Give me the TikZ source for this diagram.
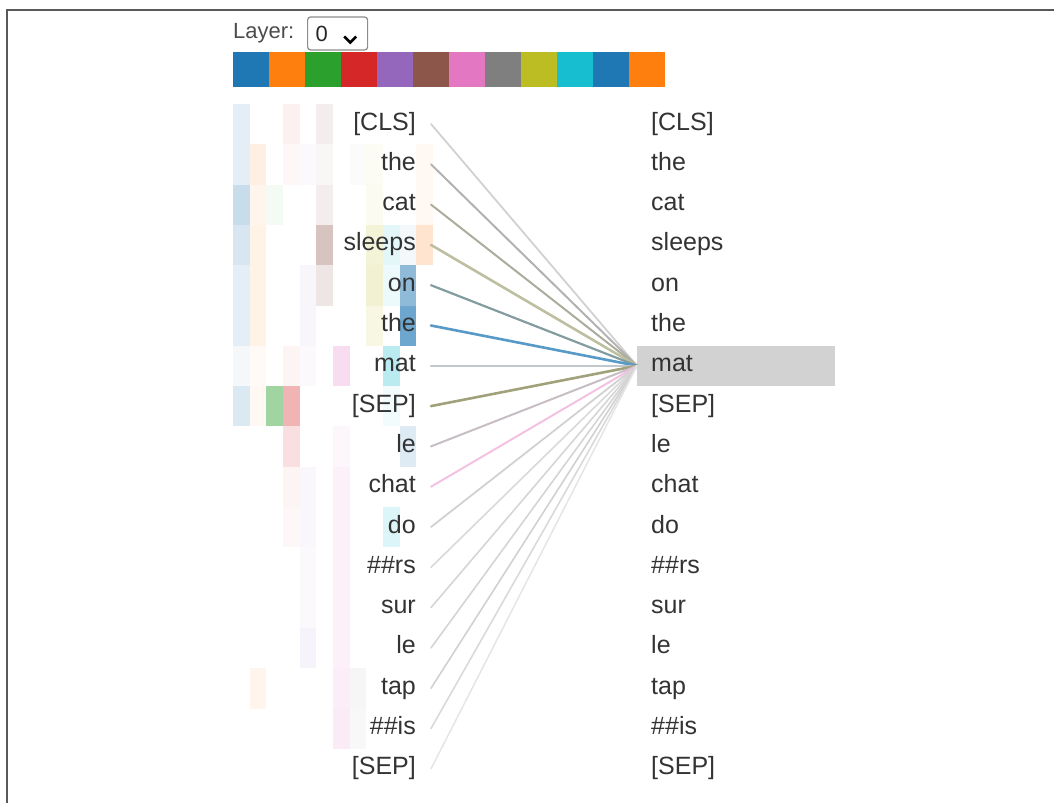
\documentclass[tikz,border=0pt]{standalone}
\usepackage{fontspec}
\setmainfont{Liberation Sans}
\usepackage{xcolor}
% head colours
\definecolor{hc0}{HTML}{1F77B4}
\definecolor{hc1}{HTML}{FF7F0E}
\definecolor{hc2}{HTML}{2CA02C}
\definecolor{hc3}{HTML}{D62728}
\definecolor{hc4}{HTML}{9467BD}
\definecolor{hc5}{HTML}{8C564B}
\definecolor{hc6}{HTML}{E377C2}
\definecolor{hc7}{HTML}{7F7F7F}
\definecolor{hc8}{HTML}{BCBD22}
\definecolor{hc9}{HTML}{17BECF}
\definecolor{hc10}{HTML}{1F77B4}
\definecolor{hc11}{HTML}{FF7F0E}
\definecolor{tokgray}{HTML}{333333}
\definecolor{selgray}{HTML}{D2D2D2}

\begin{document}
\begin{tikzpicture}[x=1pt, y=-1pt,
    tok/.style={text=tokgray, font=\fontsize{25}{30}\selectfont, text height=18pt, text depth=6pt, inner ysep=7.5pt},
    srctok/.style={tok, anchor=east, inner xsep=15pt},
    tgttok/.style={tok, anchor=west, inner xsep=14pt, text width=170pt, align=left},
    attn/.style={line width=2pt, line cap=round}]
    \useasboundingbox (0,0) rectangle (1054,803);

    % window edge
    \draw[line width=2.2pt, black!65] (7,803) -- (7,10) -- (1054,10);

    % layer selector
    \node[anchor=west, text=black!70, font=\fontsize{22}{26}\selectfont, inner sep=0pt] (layerlbl) at (233,33) {Layer:};
    \node[draw=black!45, line width=1.2pt, rounded corners=3pt, anchor=west, minimum height=33pt,
          text width=44pt, inner xsep=8pt, align=left, text=black!85, font=\fontsize{22}{26}\selectfont] (layersel) at (307,33.5) {0};
    \draw[line width=2.6pt, black] ([xshift=-24pt, yshift=-3pt]layersel.east) -- ++(6,6) -- ++(6,-6);

    % head colour bar
    \foreach \c in {0,...,11}
        \fill[hc\c] ({233+36*\c}, 52) rectangle ++(36, 35);

    % attention heat map (head / row / strength)
    \foreach \c/\r/\o in {0/0/.12, 0/1/.12, 0/2/.25, 0/3/.18, 0/4/.12, 0/5/.12, 0/6/.05, 0/7/.16,
                          1/1/.12, 1/2/.08, 1/3/.1, 1/4/.1, 1/5/.1, 1/6/.04, 1/7/.05, 1/14/.08,
                          2/2/.05, 2/7/.45,
                          3/0/.07, 3/1/.04, 3/6/.05, 3/7/.35, 3/8/.15, 3/9/.05, 3/10/.04,
                          4/1/.04, 4/4/.06, 4/5/.06, 4/6/.04, 4/9/.05, 4/10/.05, 4/11/.04, 4/12/.04, 4/13/.08,
                          5/0/.1, 5/1/.05, 5/2/.1, 5/3/.35, 5/4/.15,
                          6/6/.25, 6/8/.06, 6/9/.1, 6/10/.1, 6/11/.1, 6/12/.1, 6/13/.1, 6/14/.12, 6/15/.15,
                          7/1/.03, 7/14/.07, 7/15/.05,
                          8/1/.05, 8/2/.06, 8/3/.18, 8/4/.2, 8/5/.12,
                          9/3/.12, 9/4/.08, 9/6/.3, 9/7/.05, 9/10/.15,
                          10/3/.05, 10/4/.5, 10/5/.65, 10/8/.15,
                          11/1/.05, 11/2/.05, 11/3/.2}
        \fill[hc\c, fill opacity=\o] ({233+16.67*\c}, {104+40.3*\r}) rectangle ++(16.67, 40.3);

    % tokens
    \foreach \i/\t in {0/{[CLS]}, 1/the, 2/cat, 3/sleeps, 4/on, 5/the, 6/mat, 7/{[SEP]}, 8/le,
                       9/chat, 10/do, 11/\#\#rs, 12/sur, 13/le, 14/tap, 15/\#\#is, 16/{[SEP]}} {
        \node[srctok] (src\i) at (431, {124+40.3*\i}) {\t};
        \node[tgttok] (tgt\i) at (637, {124+40.3*\i}) {\t};
    }

    % selected target
    \fill[selgray] (tgt6.north west) rectangle (tgt6.south east);
    \node[tgttok] at (tgt6.west) {mat};

    % attention lines
    \foreach \i/\col/\w in {0/black!18/1.8, 1/black!30/2, 2/hc8!25!black!40/2, 3/hc8!50!black!40/2.6,
                            4/hc9!30!black!50/2.2, 5/hc0!75!white/2.6, 6/hc0!25!black!25/2.2, 7/hc8!45!black!55/2.6,
                            8/hc6!30!black!30/2, 9/hc6!45!white/2, 10/black!18/1.8, 11/black!15/1.6,
                            12/hc6!15!black!18/1.6, 13/hc6!25!black!20/1.6, 14/black!18/1.6, 15/black!15/1.6, 16/black!10/1.5}
        \draw[attn, \col, line width=\w pt] (src\i.east) -- (tgt6.west);
\end{tikzpicture}
\end{document}
